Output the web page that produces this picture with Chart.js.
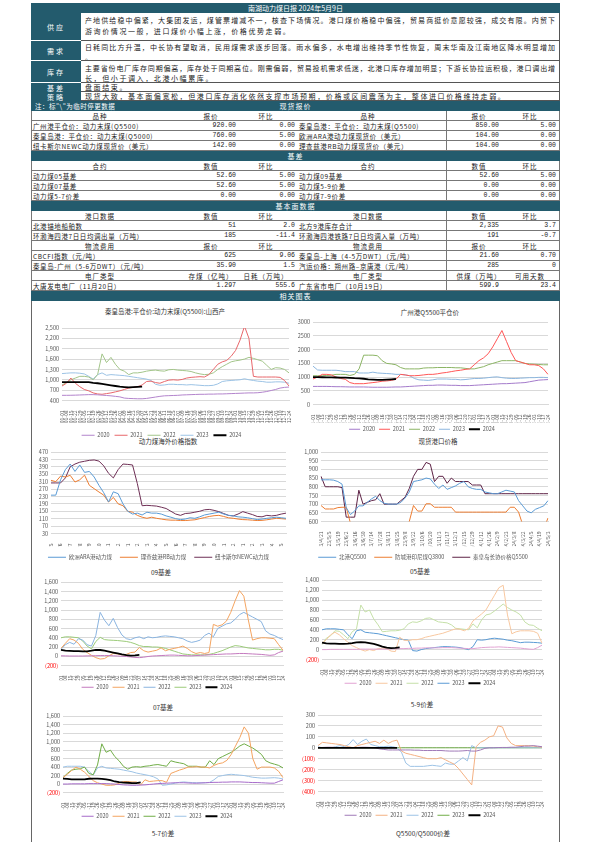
<!DOCTYPE html>
<html lang="zh">
<head>
<meta charset="utf-8">
<title>动力煤日报</title>
<script src="https://cdn.jsdelivr.net/npm/chart.js@4.4.1/dist/chart.umd.min.js"></script>
<style>
  body { margin:0; width:595px; height:842px; position:relative; overflow:hidden; background:#fff;
         font-family:"Noto Sans CJK SC","Noto Sans",sans-serif; color:#222; }
  .a { position:absolute; box-sizing:border-box; }
  .teal { background:#235b6d; color:#fff; }
  .lab { left:31px; width:50px; font-size:7px; display:flex; align-items:center; justify-content:center;
         border-bottom:1px solid #fff; letter-spacing:2px; }
  .txt { left:81px; width:479px; font-size:7px; line-height:10px; padding:1px 4px 0 4px;
         border-bottom:1px solid #555; border-right:1px solid #555; overflow:hidden; }
  .txt div { white-space:nowrap; letter-spacing:1.6px; }
  .txt div.j { white-space:normal; text-align:justify; text-align-last:justify; letter-spacing:0; }
  .row { left:31px; width:529px; height:10px; font-size:6.5px; line-height:10px;
         border-bottom:1px solid #777; border-left:1px solid #777; border-right:1px solid #777; }
  .row span { position:absolute; top:0; white-space:nowrap; }
  .num { font-family:"Liberation Mono","DejaVu Sans Mono",monospace; }
  .ctitle { position:absolute; font-size:6.5px; color:#333; transform:translateX(-50%); white-space:nowrap; }
  canvas { position:absolute; }
</style>
</head>
<body>

<div class="a teal" style="left:31px;top:3px;width:529px;height:10px;font-size:7px;line-height:10px;text-align:center">南湖动力煤日报 2024年5月9日</div>

<div class="a teal lab" style="top:13px;height:28px">供应</div>
<div class="a txt" style="top:13px;height:28px;padding-top:2px;line-height:11px">
  <div class="j">产地供给稳中偏紧，大集团发运，煤管票增减不一，核查下场情况。港口煤价格稳中偏强，贸易商挺价意愿较强，成交有限。内贸下</div>
  <div>游询价情况一般，进口煤价小幅上涨，价格优势走弱。</div>
</div>
<div class="a teal lab" style="top:41px;height:20px">需求</div>
<div class="a txt" style="top:41px;height:20px">
  <div class="j">日耗同比方升温，中长协有望取消，民用煤需求逐步回落。雨水偏多，水电增出维持季节性恢复，周末华南及江南地区降水明显增加</div>
  <div>。</div>
</div>
<div class="a teal lab" style="top:61px;height:22px">库存</div>
<div class="a txt" style="top:61px;height:22px;padding-top:2px">
  <div class="j">主要省份电厂库存同期偏高，库存处于同期高位。刚需偏弱，贸易投机需求低迷，北港口库存增加明显；下游长协拉运积极，港口调出增</div>
  <div>长，但小于调入，北港小幅累库。</div>
</div>
<div class="a teal lab" style="top:83px;height:9px;border-bottom:0">基差</div>
<div class="a txt" style="top:83px;height:9px;line-height:8px;padding-top:0">
  <div>盘面结束。</div>
</div>
<div class="a teal lab" style="top:92px;height:9px;border-bottom:0">策略</div>
<div class="a txt" style="top:92px;height:9px;line-height:8px;padding-top:0">
  <div>现货大致，基本面偏宽松，但港口库存消化依然支撑市场预期，价格或区间震荡为主，整体进口价格维持走弱。</div>
</div>

<div class="a" style="left:31px;top:301px;width:1px;height:541px;background:#666"></div>
<div class="a" style="left:559px;top:301px;width:1px;height:541px;background:#666"></div>

<div class="ctitle" style="left:165px;top:306px">秦皇岛港:平仓价:动力末煤(Q5500):山西产</div>
<div class="ctitle" style="left:430px;top:307px">广州港Q5500平仓价</div>
<div class="ctitle" style="left:168px;top:436px">动力煤海外价格指数</div>
<div class="ctitle" style="left:438px;top:436px">现货港口价格</div>
<div class="ctitle" style="left:161px;top:567px">09基差</div>
<div class="ctitle" style="left:420px;top:566px">05基差</div>
<div class="ctitle" style="left:163px;top:702px">07基差</div>
<div class="ctitle" style="left:422px;top:699px">5-9价差</div>
<div class="ctitle" style="left:163px;top:828px">5-7价差</div>
<div class="ctitle" style="left:423px;top:828px">Q5500/Q5000价差</div>

<canvas id="cQhd"></canvas>
<canvas id="cGz"></canvas>
<canvas id="cIntl"></canvas>
<canvas id="cPort"></canvas>
<canvas id="c09"></canvas>
<canvas id="c05"></canvas>
<canvas id="c07"></canvas>
<canvas id="c59"></canvas>

<script>
// 周度横轴
const weeks = ['01-01','01-08','01-15','01-22','01-29','02-05','02-12','02-19','02-26','03-05','03-12','03-19','03-26',
  '04-02','04-09','04-16','04-23','04-30','05-07','05-14','05-21','05-28','06-04','06-11','06-18','06-25',
  '07-02','07-09','07-16','07-23','07-30','08-06','08-13','08-20','08-27','09-03','09-10','09-17','09-24',
  '10-01','10-08','10-15','10-22','10-29','11-05','11-12','11-19','11-26','12-03','12-10','12-17','12-24'];

// 秦皇岛港平仓价 动力末煤Q5500 山西产
const qhd2020 = [550,550,552,555,560,565,570,570,565,555, 545,535,520,505,470,460,455,450,450,460,
  480,500,520,535,540,545,550,560,565,570, 575,580,580,585,585,590,590,595,600,605,
  610,615,620,620,625,640,660,690,720,760, 780,790];
const qhd2021 = [820,900,1050,900,800,720,680,620,590,580, 600,620,650,680,720,760,780,800,850,950,
  960,920,900,950,990,1000,990,1010,1050,1070, 1080,1090,1080,1150,1300,1450,1520,1560,1680,1850,
  2150,2550,2200,1100,1080,1080,1080,1080,1080,1070, 980,820];
const qhd2022 = [850,920,1000,1050,1100,1100,1080,1000,1150,1750, 1500,1650,1450,1300,1250,1150,1200,1200,1220,1250,
  1270,1280,1260,1250,1290,1300,1280,1270,1260,1240, 1200,1170,1150,1160,1200,1300,1380,1450,1520,1550,
  1570,1600,1650,1620,1580,1540,1420,1300,1350,1340, 1300,1200];
const qhd2023 = [1180,1190,1200,1200,1190,1170,1100,1020,1150,1200, 1130,1150,1140,1130,1120,1100,1080,1060,1040,1020,
  980,870,840,850,870,870,860,860,850,860, 850,840,830,830,840,880,950,970,980,990,
  1000,1030,1000,980,960,950,930,930,940,940, 930,900];
const qhd2024 = [930,930,930,930,930,930,930,910,900,880,860,840,820,800,790,780,790,795,800];

// 广州港 Q5500 平仓价
const gz2020 = [660,660,660,660,655,650,650,645,640,640, 640,640,635,630,630,630,630,635,640,640,
  650,660,670,680,690,700,700,710,710,705, 700,700,690,690,690,700,710,720,730,740,
  750,760,760,770,780,790,800,830,860,890, 900,910];
const gz2021 = [930,1000,1100,1100,1080,1000,950,920,800,760, 760,760,780,800,820,850,860,880,920,1100,
  1080,1050,1050,1060,1080,1100,1100,1120,1150,1170, 1200,1230,1250,1280,1300,1450,1600,1700,1850,2100,
  2400,2700,2300,1900,1600,1550,1500,1450,1450,1420, 1300,1100];
const gz2022 = [1050,1050,1050,1060,1070,1100,1100,1100,1060,1100, 1300,1800,1800,1800,1780,1600,1500,1480,1450,1350,
  1300,1300,1300,1300,1330,1340,1340,1350,1350,1350, 1350,1340,1340,1320,1300,1300,1340,1380,1450,1500,
  1550,1600,1600,1600,1600,1550,1500,1480,1470,1460, 1450,1450];
const gz2023 = [1400,1260,1250,1250,1250,1250,1230,1200,1200,1200, 1150,1150,1150,1180,1150,1140,1130,1120,1100,1100,
  1080,1050,950,900,890,880,900,930,930,930, 920,920,900,910,930,950,950,960,980,1000,
  1010,980,960,950,950,960,970,980,980,990, 990,980];
const gz2024 = [1000,1000,995,990,990,985,980,980,975,960,950,940,920,910,900,900,910,920,930];

// 动力煤海外价格指数（半月）
const intlMonths = ['22/5','22/6','22/7','22/8','22/9','22/10','22/11','22/12','23/1','23/2','23/3','23/4','23/5',
  '23/6','23/7','23/8','23/9','23/10','23/11','23/12','24/1','24/2','24/3','24/4','24/5'];
const araIdx = [237,237,320,375,405,365,400,360,365,335, 290,250,200,255,245,190,150,135,140,130,
  145,140,140,135,125,118,110,105,108,115, 112,120,130,135,140,145,135,128,125,120,
  118,115,110,105,108,112,115,118,115,112];
const rbIdx = [317,310,340,335,344,308,320,345,290,272, 254,237,200,225,190,180,150,145,128,118,
  112,118,112,108,104,102,102,100,100,102, 104,110,116,122,126,128,122,115,112,108,
  105,104,102,100,101,104,108,112,110,108];
const newcIdx = [303,303,303,330,390,405,415,420,425,427, 421,395,355,330,375,405,403,400,300,180,
  182,180,178,172,165,150,135,128,138,140, 145,150,158,160,155,148,138,128,125,135,
  148,140,132,122,120,128,125,128,135,140];

// 现货港口价格（周度，横轴两周一标）
const portDates = ['23/4/21','23/5/5','23/5/19','23/6/2','23/6/16','23/6/30','23/7/14','23/7/28','23/8/11','23/8/25',
  '23/9/8','23/9/22','23/10/6','23/10/20','23/11/3','23/11/17','23/12/1','23/12/15','23/12/29','24/1/12',
  '24/1/26','24/2/9','24/2/23','24/3/8','24/3/22','24/4/5','24/4/19','24/5/3'];
const portNorth = [840,840,840,838,830,815,680,640,660,690, 690,710,730,745,720,705,700,700,700,710,
  735,770,830,835,840,850,845,815,790,810, 785,795,805,820,830,800,790,785,785,770,
  765,760,760,770,780,775,770,720,690,660, 650,670,680,690,720];
const portIndo = [692,672,672,672,680,682,682,590,560,560, 560,560,560,560,560,560,560,560,560,560,
  560,600,692,660,660,702,702,682,682,682, 682,682,654,654,654,654,654,654,654,654,
  654,654,654,654,654,682,682,654,580,560, 560,560,560,560,620];
const portLong = [860,800,800,800,800,795,625,625,625,780, 700,710,720,725,760,700,700,700,700,720,
  740,790,860,900,900,940,930,830,860,860, 820,850,830,830,830,830,810,810,810,760,
  760,760,760,760,760,760,760,760,760,760, 760,760,760,760,760];

// 09基差
const b09_2020 = [10,8,5,5,5,5,8,10,12,15, 15,15,10,5,0,-5,-15,-25,-30,-20,
  -5,5,10,15,20,25,25,20,15,10, 10,15,20,25,30,35,40,45,50,50,
  55,60,60,55,50,45,40,30,20,30, 80,110];
const b09_2021 = [170,280,380,350,280,150,80,20,-30,-60, -50,10,60,50,30,40,80,90,190,120,
  90,110,130,180,120,150,170,190,220,170, 100,60,80,60,80,690,650,680,760,950,
  1200,1420,1300,800,350,380,400,400,390,380, 250,130];
const b09_2022 = [150,250,300,260,380,350,250,220,450,950, 780,660,820,620,460,380,360,400,420,380,
  420,400,410,430,440,430,420,400,380,330, 300,320,350,450,500,420,600,650,700,720,
  800,900,950,900,850,800,750,550,480,450, 400,360];
const b09_2023 = [400,420,420,410,400,330,220,160,320,410, 360,350,345,340,330,320,300,270,230,210,
  210,200,200,190,170,140,110,80,50,40, 30,30,30,30,40,60,90,120,160,200,
  230,220,200,180,170,160,150,140,140,150, 150,130];
const b09_2024 = [140,120,115,110,110,105,105,120,140,135,120,100,80,60,40,25,15,20,30];

// 05基差
const b05_2020 = [0,0,5,5,5,5,5,5,5,10, 10,10,10,10,10,10,15,15,20,20,
  25,25,30,30,35,35,35,35,40,40, 40,35,30,25,20,20,30,40,45,50,
  50,55,50,45,40,35,30,20,10,5, 40,90];
const b05_2021 = [130,200,300,350,300,220,150,80,40,0, -30,0,-20,20,30,20,-30,-40,250,190,
  180,200,200,220,250,270,290,310,330,360, 390,420,410,380,430,580,650,720,800,950,
  1100,1250,1300,700,320,360,380,380,380,370, 330,130];
const b05_2022 = [100,230,280,380,370,300,220,360,420,900, 760,800,620,500,360,370,380,380,390,420,
  520,560,550,580,630,640,600,560,550,540, 500,430,420,410,400,520,440,600,700,720,
  780,850,920,850,800,760,700,560,500,490, 430,380];
const b05_2023 = [400,420,420,420,410,400,300,220,380,400, 350,340,330,320,300,280,260,240,220,200,
  190,-20,-30,0,20,30,40,50,60,60, 55,50,40,20,0,60,200,190,200,220,
  230,220,210,190,180,160,140,150,150,145, 140,130];
const b05_2024 = [140,125,120,120,115,115,120,130,145,150,145,130,115,90,60,40,30,35,45];

// 07基差
const b07_2020 = [0,0,5,5,5,5,10,10,10,10, 10,5,0,-10,-20,-25,-30,-30,-25,-20,
  -10,0,10,15,20,25,30,30,30,25, 20,20,25,30,35,40,40,45,45,50,
  50,50,45,40,35,35,30,25,20,20, 60,100];
const b07_2021 = [150,230,320,400,350,280,180,80,30,0, -30,-30,-20,20,60,60,50,50,-20,100,
  60,70,80,80,40,250,290,330,360,400, 400,410,400,400,380,440,480,500,560,700,
  900,1100,1350,1200,600,350,400,400,400,380, 300,150];
const b07_2022 = [150,250,330,350,360,400,250,220,450,950, 750,800,650,550,420,350,400,410,400,420,
  430,450,460,440,420,550,520,500,480,420, 420,420,400,400,550,460,600,650,700,750,
  820,900,950,900,850,780,700,550,500,470, 440,380];
const b07_2023 = [400,420,420,420,420,400,300,210,380,420, 380,370,360,350,330,310,290,260,240,220,
  200,170,120,-30,-20,0,20,40,50,40, 35,30,30,30,40,100,180,200,220,230,
  220,210,200,180,160,150,140,140,145,150, 140,120];
const b07_2024 = [130,120,112,110,110,112,125,130,130,120,110,90,60,45,35,30,22,20,40];

// 5-9价差
const s59_2020 = [2,3,5,5,3,2,0,0,2,3, 5,5,3,0,-10,-15,-20,-20,-20,-20,
  -20,-20,-22,-22,-25,-25,-25,-25,-25,-28, -30,-30,-30,-28,-25,-30,-30,-20,-5,0,
  0,2,3,3,5,5,10,15,15,20, 15,10];
const s59_2021 = [20,50,45,40,35,30,20,10,0,20, 30,40,50,60,40,70,40,60,70,-30,
  -50,-60,-70,-80,-90,-100,-100,-100,-90,-110, -130,-150,-190,-240,-290,-340,10,50,70,100,
  110,200,190,90,40,20,20,20,20,15, 10,5];
const s59_2022 = [10,0,0,0,10,20,10,30,75,30, 60,80,30,20,10,10,15,10,0,-40,
  -140,-170,-170,-170,-170,-165,-160,-165,-170,-140, -150,-150,-120,-90,-120,20,0,0,0,0,
  0,0,0,0,0,0,0,0,0,0, 0,0];
const s59_2023 = [0,0,0,0,0,0,0,0,0,0, 0,0,0,0,0,0,0,0,0,0,
  0,0,0,0,0,0,0,0,0,0, 0,0,0,0,0,0,0,0,0,0,
  0,0,0,0,0,0,0,0,0,0, 0,0];
const s59_2024 = [0,0,0,0,0,0,0,0,0,0,0,0,0,0,0,0,0,0,0];

// ---------- 表格 ----------
const COL_CENTER = [100, 211, 266, 368, 479, 530];
const NUM_RIGHT = [0, 236, 295, 0, 499, 556];
const TXT_LEFT = [33, 0, 0, 299, 0, 0];
const ROW_TOP = 101, ROW_H = 10;

const tableRows = [
  ['bar', '现货报价', '注：标"\\"为临时停更数据'],
  ['head', ['品种','报价','环比','品种','报价','环比']],
  ['row', ['广州港平仓价：动力末煤(Q5500)','920.00','0.00','秦皇岛港：平仓价：动力末煤(Q5500)','850.00','5.00']],
  ['row', ['秦皇岛港：平仓价：动力末煤(Q5000)','760.00','5.00','欧洲ARA港动力煤现货价（美元）','104.00','0.00']],
  ['row', ['纽卡斯尔NEWC动力煤现货价（美元）','142.00','0.00','理查兹港RB动力煤现货价（美元）','104.00','0.00']],
  ['bar', '基差'],
  ['head', ['合约','数值','环比','合约','数值','环比']],
  ['row', ['动力煤05基差','52.60','5.00','动力煤09基差','52.60','5.00']],
  ['row', ['动力煤07基差','52.60','5.00','动力煤5-9价差','0.00','0.00']],
  ['row', ['动力煤5-7价差','0.00','0.00','动力煤7-9价差','0.00','0.00']],
  ['bar', '基本面数据'],
  ['head', ['港口数据','数值','环比','港口数据','数值','环比']],
  ['row', ['北港锚地船舶数','51','2.0','北方9港库存合计','2,335','3.7']],
  ['row', ['环渤海四港7日日均调出量（万吨）','185','-11.4','环渤海四港铁路7日日均调入量（万吨）','191','-0.7']],
  ['head', ['物流费用','报价','环比','物流费用','报价','环比']],
  ['row', ['CBCFI指数（元/吨）','625','9.06','秦皇岛-上海（4-5万DWT）（元/吨）','21.60','0.70']],
  ['row', ['秦皇岛-广州（5-6万DWT）（元/吨）','35.90','1.5','汽运价格：朔州路–京唐港（元/吨）','285','0']],
  ['head', ['电厂类型','存煤（亿吨）','日耗（万吨）','电厂类型','供煤（万吨）','可用天数']],
  ['row', ['大唐发电电厂（11月20日）','1.297','555.6','广东省市电厂（10月19日）','599.9','23.4']],
  ['bar', '相关图表']
];

tableRows.forEach((r, i) => {
  const top = ROW_TOP + i * ROW_H;
  const d = document.createElement('div');
  if (r[0] === 'bar') {
    d.className = 'a teal';
    d.style.cssText = `left:31px;top:${top}px;width:529px;height:${ROW_H}px;font-size:7px;line-height:${ROW_H}px;text-align:center;letter-spacing:1px`;
    d.textContent = r[1];
    if (r[2]) {
      const s = document.createElement('span');
      s.textContent = r[2];
      s.style.cssText = 'position:absolute;left:4px;top:0;font-size:6.5px;letter-spacing:0.5px';
      d.appendChild(s);
    }
  } else {
    d.className = 'a row';
    d.style.top = top + 'px';
    r[1].forEach((t, c) => {
      const s = document.createElement('span');
      s.textContent = t;
      if (r[0] === 'head') {
        s.style.left = (COL_CENTER[c] - 32 - 40) + 'px';
        s.style.width = '80px';
        s.style.textAlign = 'center';
        s.style.letterSpacing = '1px';
      } else if (TXT_LEFT[c]) {
        s.style.left = (TXT_LEFT[c] - 32) + 'px';
        s.style.letterSpacing = '0.6px';
      } else {
        s.className = 'num';
        s.style.left = (NUM_RIGHT[c] - 32 - 60) + 'px';
        s.style.width = '60px';
        s.style.textAlign = 'right';
      }
      d.appendChild(s);
    });
    const v = document.createElement('span');
    v.style.cssText = 'left:' + (446 - 32) + 'px;top:0;height:10px;width:1px;background:#777';
    d.appendChild(v);
  }
  document.body.appendChild(d);
});

// ---------- 图表 ----------
Chart.defaults.font.family = '"Noto Sans CJK SC","Liberation Sans",sans-serif';
Chart.defaults.color = '#595959';

function fmtComma(v) {
  const s = Math.abs(v).toLocaleString('en-US');
  return v < 0 ? '(' + s + ')' : s;
}
function fmtPlain(v) { return String(v); }

function makeChart(c) {
  const cv = document.getElementById(c.id);
  cv.width = c.w; cv.height = c.h;
  cv.style.left = c.x + 'px'; cv.style.top = c.y + 'px';
  return new Chart(cv, {
    type: 'line',
    data: {
      labels: c.labels,
      datasets: c.series.map(s => ({
        label: s.name, data: s.data,
        borderColor: s.color, backgroundColor: s.color,
        borderWidth: s.bw || 1, pointRadius: 0, tension: 0, fill: false,
        order: s.bw ? -1 : 0
      }))
    },
    options: {
      responsive: false, devicePixelRatio: 1, animation: false,
      layout: { padding: c.pad },
      plugins: {
        tooltip: { enabled: false },
        legend: {
          position: 'bottom',
          labels: {
            usePointStyle: true, pointStyle: 'line', pointStyleWidth: c.lw || 12,
            padding: c.lp || 4, font: { size: 5.5 }, color: '#595959',
            sort: (a, b) => a.datasetIndex - b.datasetIndex
          }
        }
      },
      scales: {
        x: {
          ticks: { autoSkip: false, maxRotation: 90, minRotation: 90, font: { size: 5 }, padding: 2 },
          grid: { display: false },
          border: { color: '#d9d9d9' },
          afterFit(s) { s.height = c.xh; }
        },
        y: {
          min: c.min, max: c.max,
          ticks: {
            stepSize: c.step, autoSkip: false, font: { size: 5.5 }, padding: 3, callback: c.fmt,
            color: ctx => (ctx.tick && ctx.tick.value < 0) ? '#ff0000' : '#595959'
          },
          grid: { color: '#d9d9d9', drawTicks: false },
          border: { display: false },
          afterFit(s) { s.width = c.yw; }
        }
      }
    }
  });
}

const seasonal = (arr, colors) => ['2020','2021','2022','2023','2024'].map((n, i) => ({
  name: n, data: arr[i], color: colors[i], bw: i === 4 ? 1.8 : 0
}));

makeChart({ id: 'cQhd', x: 31, y: 316, w: 266, h: 132, labels: weeks,
  series: seasonal([qhd2020, qhd2021, qhd2022, qhd2023, qhd2024], ['#b384cc','#e8676b','#a3c58a','#9cc3e5','#000000']),
  min: 400, max: 2500, step: 300, fmt: fmtComma, yw: 31, xh: 27, lw: 13, lp: 5, pad: { top: 12, right: 5, bottom: 0 } });

makeChart({ id: 'cGz', x: 296, y: 316, w: 262, h: 126, labels: weeks,
  series: seasonal([gz2020, gz2021, gz2022, gz2023, gz2024], ['#a47bcb','#ff5757','#8cb565','#8db7df','#000000']),
  min: 0, max: 3000, step: 500, fmt: fmtPlain, yw: 17, xh: 18, lw: 11, lp: 4, pad: { top: 6, right: 10, bottom: 0 } });

makeChart({ id: 'cIntl', x: 31, y: 444, w: 266, h: 126, labels: intlMonths.flatMap(m => [m, '']),
  series: [
    { name: '欧洲ARA港动力煤', data: araIdx, color: '#5b9bd5' },
    { name: '理查兹港RB动力煤', data: rbIdx, color: '#ed7d31' },
    { name: '纽卡斯尔NEWC动力煤', data: newcIdx, color: '#6e2f55' }
  ],
  min: 30, max: 470, step: 40, fmt: fmtPlain, yw: 20, xh: 13, lw: 18, lp: 8, pad: { top: 8, right: 11, bottom: 0 } });

makeChart({ id: 'cPort', x: 298, y: 444, w: 260, h: 126, labels: portDates.flatMap(d => [d, '']).slice(0, 55),
  series: [
    { name: '北港Q5500', data: portNorth, color: '#5b9bd5' },
    { name: '防城港印尼煤Q3800', data: portIndo, color: '#ed7d31' },
    { name: '秦皇岛长协价格Q5500', data: portLong, color: '#5e2346' }
  ],
  min: 600, max: 1000, step: 50, fmt: fmtComma, yw: 23, xh: 25, lw: 18, lp: 8, pad: { top: 8, right: 10, bottom: 0 } });

makeChart({ id: 'c09', x: 31, y: 576, w: 266, h: 124, labels: weeks,
  series: seasonal([b09_2020, b09_2021, b09_2022, b09_2023, b09_2024], ['#c47abf','#f4a460','#8ab4e0','#9ccb7a','#000000']),
  min: -200, max: 1600, step: 200, fmt: fmtComma, yw: 30, xh: 15, pad: { top: 6, right: 14, bottom: 0 } });

makeChart({ id: 'c05', x: 298, y: 574, w: 260, h: 122, labels: weeks,
  series: seasonal([b05_2020, b05_2021, b05_2022, b05_2023, b05_2024], ['#e2a3d3','#f8c8a0','#c5e0a8','#5b9bd5','#000000']),
  min: -200, max: 1400, step: 200, fmt: fmtComma, yw: 24, xh: 17, pad: { top: 6, right: 16, bottom: 0 } });

makeChart({ id: 'c07', x: 31, y: 710, w: 266, h: 119, labels: weeks,
  series: seasonal([b07_2020, b07_2021, b07_2022, b07_2023, b07_2024], ['#a66bc9','#f4a460','#70ad47','#9dc3e6','#000000']),
  min: -200, max: 1600, step: 200, fmt: fmtComma, yw: 32, xh: 17, pad: { top: 4, right: 14, bottom: 0 } });

makeChart({ id: 'c59', x: 298, y: 708, w: 260, h: 120, labels: weeks,
  series: seasonal([s59_2020, s59_2021, s59_2022, s59_2023, s59_2024], ['#a07ab8','#f4b183','#9dc3e6','#70ad47','#000000']),
  min: -400, max: 300, step: 100, fmt: fmtComma, yw: 20, xh: 17, pad: { top: 7, right: 16, bottom: 0 } });
</script>
</body>
</html>
